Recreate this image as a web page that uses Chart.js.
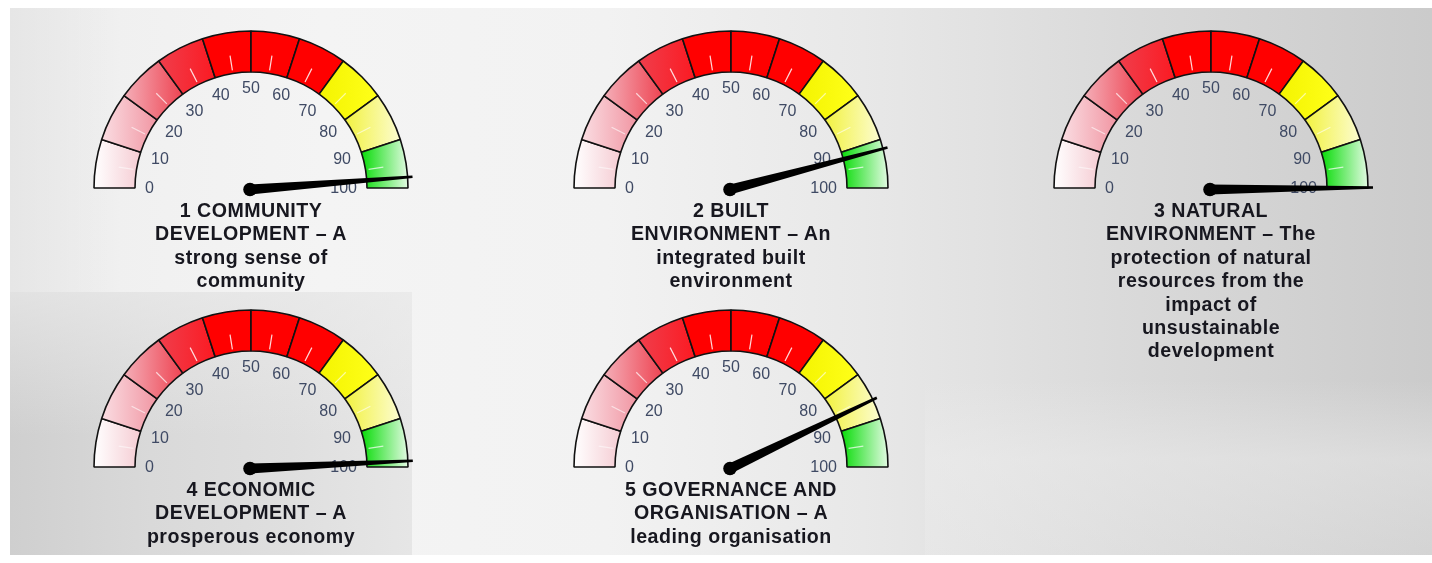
<!DOCTYPE html>
<html><head><meta charset="utf-8">
<script src="https://cdn.jsdelivr.net/npm/chart.js@4.4.0/dist/chart.umd.min.js"></script>
<style>
html,body{margin:0;padding:0;background:#ffffff;width:1432px;height:563px;overflow:hidden;position:relative;font-family:"Liberation Sans",Arial,sans-serif;}
.bg{position:absolute;}
#panel{left:10px;top:8px;width:1422px;height:547px;background:linear-gradient(to right,#eeeeee 0%,#f4f4f4 22%,#f2f2f2 42%,#e8e8e8 60%,#dadada 78%,#cbcbcb 100%);}
#bl{left:10px;top:292px;width:402px;height:263px;background:linear-gradient(to bottom,rgba(238,238,238,0.6),rgba(238,238,238,0) 55%),linear-gradient(to right,#cfcfcf 0%,#d9d9d9 35%,#dfdfdf 70%,#e6e6e6 100%);}
#tl{left:10px;top:8px;width:110px;height:284px;background:linear-gradient(to right,#e6e6e6,rgba(240,240,240,0));}
#br{left:925px;top:380px;width:507px;height:175px;background:linear-gradient(to bottom,rgba(238,238,238,0),rgba(238,238,238,0.45) 45%,rgba(238,238,238,0.25) 100%);}
.gauge{position:absolute;}
.title{position:absolute;width:320px;text-align:center;font-weight:bold;font-size:19.6px;line-height:23.4px;letter-spacing:0.5px;color:#17171f;white-space:nowrap;}
</style>
</head>
<body>
<div class="bg" id="panel"></div>
<div class="bg" id="tl"></div>
<div class="bg" id="bl"></div>
<div class="bg" id="br"></div>
<script>
// ---- data ----
const bandEdges = [0, 10, 20, 30, 40, 50, 60, 70, 80, 90, 100];
const tickLabels = ['0', '10', '20', '30', '40', '50', '60', '70', '80', '90', '100'];
const gaugeValues = [97.5, 91.7, 99.6, 98.5, 85.7];
const gaugeTitles = [
  ['1 COMMUNITY', 'DEVELOPMENT \u2013 A', 'strong sense of', 'community'],
  ['2 BUILT', 'ENVIRONMENT \u2013 An', 'integrated built', 'environment'],
  ['3 NATURAL', 'ENVIRONMENT \u2013 The', 'protection of natural', 'resources from the', 'impact of', 'unsustainable', 'development'],
  ['4 ECONOMIC', 'DEVELOPMENT \u2013 A', 'prosperous economy'],
  ['5 GOVERNANCE AND', 'ORGANISATION \u2013 A', 'leading organisation']
];

// ---- styles ----
const bandColorLeft  = ['#ffffff', '#fadde2', '#f4aeb8', '#f03e4c', '#ff0000', '#ff0000', '#ff0000', '#f4f400', '#f2f240', '#08dc08'];
const bandColorRight = ['#f5ccd3', '#f196a3', '#ee4452', '#fb1a22', '#ff0000', '#ff0000', '#ff0000', '#ffff1a', '#fcfcd0', '#e2fae2'];
const tickAlpha = [0.5, 0.6, 0.7, 0.85, 0.85, 0.85, 0.85, 0.6, 0.6, 0.7];
const centers = [[251, 188], [731, 188], [1211, 188], [251, 467], [731, 467]];
const R = 157, RIN = 116;
const PAD = {left: 14, right: 14, top: 8, bottom: 16};

const bandSizes = bandEdges.slice(1).map((e, i) => e - bandEdges[i]);

function bandGradient(ctx) {
  const chart = ctx.chart;
  const area = chart.chartArea;
  const i = ctx.dataIndex;
  if (!area || i === undefined) return bandColorLeft[i || 0];
  const cx = (area.left + area.right) / 2;
  const total = bandEdges[bandEdges.length - 1] - bandEdges[0];
  const a1 = Math.PI - (bandEdges[i] - bandEdges[0]) / total * Math.PI;
  const a2 = Math.PI - (bandEdges[i + 1] - bandEdges[0]) / total * Math.PI;
  const xs = [R * Math.cos(a1), R * Math.cos(a2), RIN * Math.cos(a1), RIN * Math.cos(a2)];
  const x0 = cx + Math.min(...xs), x1 = cx + Math.max(...xs);
  const g = chart.ctx.createLinearGradient(x0, 0, x1, 0);
  g.addColorStop(0, bandColorLeft[i]);
  g.addColorStop(1, bandColorRight[i]);
  return g;
}

const gaugePlugin = {
  id: 'gaugeDecor',
  afterDatasetsDraw(chart, args, opts) {
    const meta = chart.getDatasetMeta(0);
    const arcs = meta.data;
    const first = arcs[0], last = arcs[arcs.length - 1];
    const cx = first.x, cy = first.y, r = first.innerRadius;
    const a0 = first.startAngle, a1 = last.endAngle;
    const vmin = bandEdges[0], vmax = bandEdges[bandEdges.length - 1];
    const angleOf = v => a0 + (v - vmin) / (vmax - vmin) * (a1 - a0);
    const ctx = chart.ctx;
    ctx.save();
    // small white ticks at band midpoints
    ctx.lineWidth = 1.2;
    for (let i = 0; i < bandEdges.length - 1; i++) {
      const a = angleOf((bandEdges[i] + bandEdges[i + 1]) / 2);
      ctx.strokeStyle = 'rgba(255,255,255,' + tickAlpha[i] + ')';
      ctx.beginPath();
      ctx.moveTo(cx + Math.cos(a) * (r + 3), cy + Math.sin(a) * (r + 3));
      ctx.lineTo(cx + Math.cos(a) * (r + 18), cy + Math.sin(a) * (r + 18));
      ctx.stroke();
    }
    // tick labels
    ctx.font = '16px "Liberation Sans", Arial, sans-serif';
    ctx.fillStyle = '#3f4a64';
    ctx.textAlign = 'center';
    ctx.textBaseline = 'middle';
    const h = 11.5;
    tickLabels.forEach((t, i) => {
      const a = angleOf(bandEdges[i]);
      const w = ctx.measureText(t).width;
      const d = (r - 10) - (w / 2) * Math.abs(Math.cos(a)) - (h / 2) * Math.abs(Math.sin(a));
      ctx.fillText(t, cx + Math.cos(a) * d, cy + Math.sin(a) * d + 1);
    });
    // needle
    const v = opts.value;
    const a = angleOf(v);
    const hx = cx - 1, hy = cy + 1.5;
    const L = 163;
    const px = -Math.sin(a), py = Math.cos(a);
    const tx = hx + Math.cos(a) * L, ty = hy + Math.sin(a) * L;
    ctx.fillStyle = '#000000';
    ctx.beginPath();
    ctx.moveTo(hx + px * 5, hy + py * 5);
    ctx.lineTo(tx + px * 1.3, ty + py * 1.3);
    ctx.lineTo(tx - px * 1.3, ty - py * 1.3);
    ctx.lineTo(hx - px * 5, hy - py * 5);
    ctx.closePath();
    ctx.fill();
    ctx.beginPath();
    ctx.arc(hx, hy, 6.8, 0, Math.PI * 2);
    ctx.fill();
    ctx.restore();
  }
};

centers.forEach(([cx, cy], gi) => {
  const W = 2 * R + PAD.left + PAD.right;
  const H = R + PAD.top + PAD.bottom;
  const canvas = document.createElement('canvas');
  canvas.width = W; canvas.height = H;
  canvas.className = 'gauge';
  canvas.style.left = (cx - R - PAD.left) + 'px';
  canvas.style.top = (cy - R - PAD.top) + 'px';
  canvas.style.width = W + 'px';
  canvas.style.height = H + 'px';
  document.body.appendChild(canvas);

  new Chart(canvas, {
    type: 'doughnut',
    data: {
      labels: tickLabels.slice(0, -1).map((t, i) => t + '\u2013' + tickLabels[i + 1]),
      datasets: [{
        data: bandSizes,
        backgroundColor: bandGradient,
        borderColor: '#111111',
        borderWidth: 1.6,
        hoverOffset: 0
      }]
    },
    options: {
      responsive: false,
      animation: false,
      rotation: -90,
      circumference: 180,
      radius: R,
      cutout: (RIN / R * 100) + '%',
      layout: {padding: PAD},
      events: [],
      plugins: {
        legend: {display: false},
        tooltip: {enabled: false},
        gaugeDecor: {value: gaugeValues[gi]}
      }
    },
    plugins: [gaugePlugin]
  });

  const t = document.createElement('div');
  t.className = 'title';
  t.style.left = (cx - 160) + 'px';
  t.style.top = (cy + 11) + 'px';
  t.innerHTML = gaugeTitles[gi].map(s => s.replace(/&/g, '&amp;').replace(/</g, '&lt;')).join('<br>');
  document.body.appendChild(t);
});
</script>
</body></html>
